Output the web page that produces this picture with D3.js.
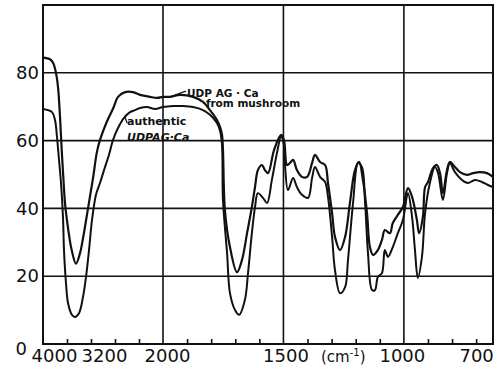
<!DOCTYPE html>
<html>
<head>
<meta charset="utf-8">
<script src="https://cdn.jsdelivr.net/npm/d3@7"></script>
<style>
  body { margin: 0; background: #fff; }
  svg { display: block; font-family: "DejaVu Sans", sans-serif; }
</style>
</head>
<body>
<svg width="501" height="370"></svg>
<script>
// UDPAG-Ca from mushroom (wavenumber cm-1, % transmittance)
const mushroomWn = [4000,3883,3828,3772,3745,3717,3688,3662,3633,3578,3522,3450,3383,3328,3272,3217,3162,3105,3050,2938,2828,2750,2633,2500,2383,2217,2100,2000,1971,1929,1875,1834,1805,1776,1763,1755,1751,1743,1722,1693,1672,1651,1631,1618,1606,1589,1577,1564,1539,1510,1498,1485,1473,1460,1444,1423,1402,1381,1369,1348,1327,1315,1298,1286,1265,1244,1224,1203,1186,1170,1153,1141,1128,1108,1091,1079,1058,1046,1025,1004,983,966,946,937,921,912,900,879,863,850,838,821,809,788,767,738,713,684,655,630]
const mushroomT = [84.5,84.0,82.8,78.8,74.9,67.1,57.2,49.4,41.5,33.6,27.7,23.7,26.8,31.7,37.6,43.5,49.4,56.3,60.2,65.5,69.6,72.9,74.3,74.3,73.5,72.9,72.6,72.9,72.9,73.5,72.9,71.4,69.0,66.1,64.0,61.7,57.2,39.5,28.6,21.2,24.8,32.7,40.4,46.3,51.3,52.8,51.3,50.4,57.2,61.7,60.2,52.8,53.4,54.3,51.3,49.3,49.3,53.4,55.8,53.7,52.8,47.5,38.6,31.6,27.7,31.6,41.6,51.3,53.7,48.4,38.6,28.6,26.3,27.7,30.7,33.6,32.7,35.7,38.1,40.4,46.0,43.4,36.6,32.7,37.5,46.3,47.8,51.9,52.8,50.4,44.5,51.3,53.7,52.2,50.7,49.9,50.4,50.7,50.4,49.3]

// authentic UDPAG-Ca
const authenticWn = [4000,3850,3800,3767,3733,3700,3667,3650,3617,3583,3517,3467,3400,3333,3283,3233,3183,3117,3050,2983,2900,2833,2750,2650,2550,2467,2383,2267,2133,2000,1958,1917,1875,1834,1805,1776,1763,1755,1751,1734,1722,1701,1684,1660,1647,1631,1618,1606,1585,1568,1548,1527,1510,1498,1494,1481,1460,1444,1423,1398,1381,1369,1348,1327,1315,1298,1286,1265,1244,1232,1211,1190,1174,1161,1149,1132,1120,1108,1091,1079,1066,1046,1025,1004,983,966,954,942,925,912,892,871,858,838,821,809,788,759,734,705,676,651,630]
const authenticT = [69.3,68.4,66.1,61.1,54.3,47.5,37.5,27.7,18.0,12.1,8.6,8.0,9.1,13.9,19.8,27.7,36.6,44.0,47.5,51.3,55.8,60.2,63.7,66.7,68.4,69.0,69.6,69.9,69.3,69.9,70.2,70.2,69.9,69.0,67.6,65.2,62.8,58.7,42.5,26.8,15.0,10.0,8.6,13.0,20.9,32.7,40.4,44.5,43.1,41.6,48.4,56.3,61.1,58.7,53.4,45.4,49.0,46.3,44.0,43.1,49.0,52.2,49.3,47.8,43.4,31.6,21.8,15.0,16.8,24.8,41.6,53.4,52.2,41.6,26.8,15.9,15.9,19.8,20.9,27.7,25.7,28.6,32.7,36.6,44.5,37.5,27.7,19.5,25.7,38.6,47.5,52.2,50.4,42.5,50.4,53.4,50.7,48.4,47.5,48.4,47.8,46.9,46.3]

// axis values
const xLabelTicks = [4000, 3200, 2000, 1500, 1000, 700]
const xMinorTicks = [3600, 3200, 2800, 2400, 1900, 1800, 1700, 1600, 1400, 1300, 1200, 1100, 900, 800, 700]
const xGridTicks = [2000, 1500, 1000]
const yTicks = [0, 20, 40, 60, 80]

const svg = d3.select("svg")
const ink = "#111"

// the spectrum scale changes at 2000 cm-1
const x = d3.scaleLinear().domain([4000, 2000, 630]).range([43, 163, 493])
const y = d3.scaleLinear().domain([0, 100]).range([344, 5])

// grid lines
svg.append("g").selectAll("line")
  .data(yTicks.filter(d => d > 0))
  .join("line")
  .attr("x1", x(4000)).attr("x2", x(630))
  .attr("y1", d => y(d)).attr("y2", d => y(d))
  .attr("stroke", ink).attr("stroke-width", 1.6)

svg.append("g").selectAll("line")
  .data(xGridTicks)
  .join("line")
  .attr("x1", d => x(d)).attr("x2", d => x(d))
  .attr("y1", y(100)).attr("y2", y(0))
  .attr("stroke", ink).attr("stroke-width", 1.6)

// frame
svg.append("rect")
  .attr("x", x(4000)).attr("y", y(100))
  .attr("width", x(630) - x(4000)).attr("height", y(0) - y(100))
  .attr("fill", "none").attr("stroke", ink).attr("stroke-width", 2)

// small ticks along the bottom, pointing inward
const minor = svg.append("g")
  .attr("transform", `translate(0,${y(0)})`)
  .call(d3.axisBottom(x).tickValues(xMinorTicks).tickSize(-5).tickFormat(""))
minor.select(".domain").remove()
minor.selectAll("line").attr("stroke", ink).attr("stroke-width", 1.6)

// x tick labels (crowded ones on the left are nudged like the original)
const nudge = { 4000: 11, 3200: 13, 2000: 4, 1500: 2, 1000: -2, 700: 0 }
const xAxis = svg.append("g")
  .attr("transform", `translate(0,${y(0)})`)
  .call(d3.axisBottom(x).tickValues(xLabelTicks).tickSize(0).tickPadding(5).tickFormat(d3.format("d")))
xAxis.select(".domain").remove()
xAxis.selectAll("text")
  .attr("dx", d => nudge[d])
  .attr("font-size", 18).attr("font-family", "DejaVu Sans").attr("fill", ink)

// unit label
const unit = svg.append("text")
  .attr("x", 321).attr("y", 362)
  .attr("font-size", 15).attr("fill", ink)
unit.append("tspan").text("(cm")
unit.append("tspan").text("-1").attr("font-size", 10).attr("dy", -6)
unit.append("tspan").text(")").attr("dy", 6)

// y tick labels
const yAxis = svg.append("g")
  .attr("transform", `translate(${x(4000)},0)`)
  .call(d3.axisLeft(y).tickValues(yTicks).tickSize(0).tickPadding(4))
yAxis.select(".domain").remove()
yAxis.selectAll("text")
  .attr("font-size", 18).attr("font-family", "DejaVu Sans").attr("fill", ink)
yAxis.selectAll("text").filter(d => d === 0)
  .attr("x", -16).attr("dy", "0.58em")

// spectra
const line = d3.line()
  .x(d => x(d[0]))
  .y(d => y(d[1]))
  .curve(d3.curveCatmullRom.alpha(0.5))

svg.append("path")
  .datum(d3.zip(authenticWn, authenticT))
  .attr("d", line)
  .attr("fill", "none").attr("stroke", ink).attr("stroke-width", 2)
  .attr("stroke-linejoin", "round")

svg.append("path")
  .datum(d3.zip(mushroomWn, mushroomT))
  .attr("d", line)
  .attr("fill", "none").attr("stroke", ink).attr("stroke-width", 2.2)
  .attr("stroke-linejoin", "round")

// annotations
svg.append("line")
  .attr("x1", x(1971)).attr("y1", y(72.9))
  .attr("x2", x(1905)).attr("y2", y(74.6))
  .attr("stroke", ink).attr("stroke-width", 1.4)
svg.append("text")
  .attr("x", x(1900)).attr("y", y(72.9))
  .attr("font-size", 10.5).attr("font-weight", 600).attr("fill", ink)
  .text("UDP AG · Ca")
svg.append("text")
  .attr("x", x(1822)).attr("y", y(69.8))
  .attr("font-size", 10.5).attr("font-weight", 600).attr("fill", ink)
  .text("from mushroom")

svg.append("line")
  .attr("x1", x(2633)).attr("y1", y(67.0))
  .attr("x2", x(2600)).attr("y2", y(65.2))
  .attr("stroke", ink).attr("stroke-width", 1.2)
svg.append("text")
  .attr("x", x(2600)).attr("y", y(64.6))
  .attr("font-size", 11).attr("font-weight", 600).attr("fill", ink)
  .text("authentic")
svg.append("text")
  .attr("x", x(2600)).attr("y", y(60.0))
  .attr("font-size", 11).attr("font-weight", "bold").attr("font-style", "italic").attr("fill", ink)
  .text("UDPAG·Ca")
</script>
</body>
</html>
